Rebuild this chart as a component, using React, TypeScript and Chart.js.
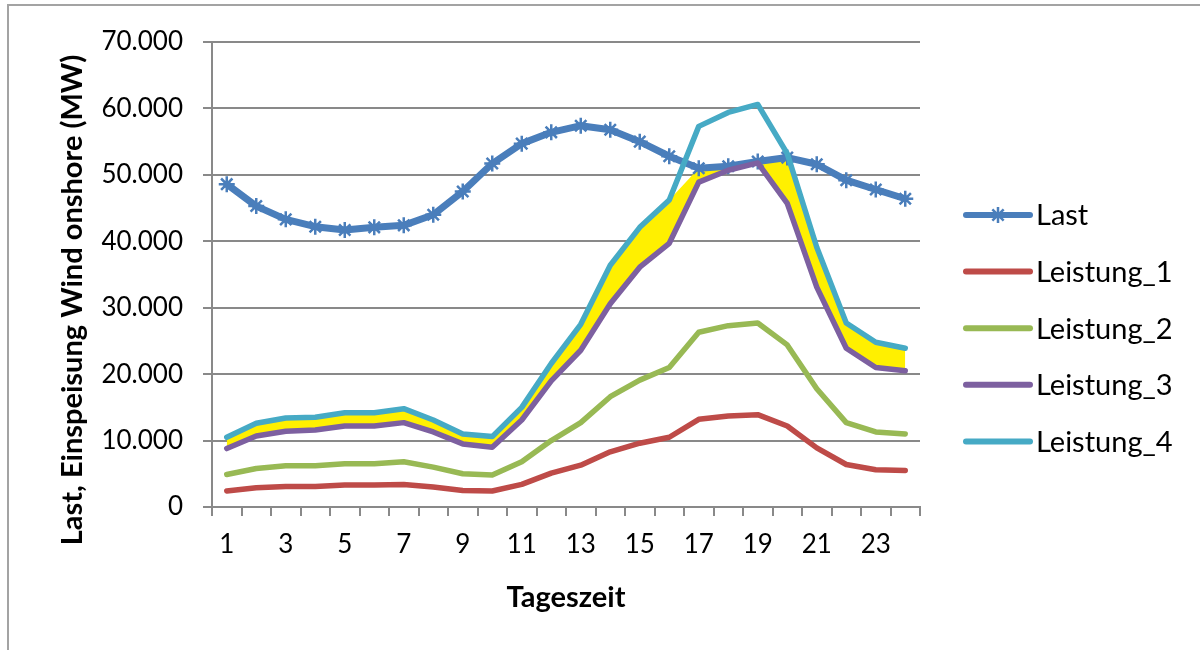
import React, { useEffect, useRef } from "react";
import { Chart, registerables } from "chart.js";

Chart.register(...registerables);

// Stunden des Tages
const hours = ["1", "2", "3", "4", "5", "6", "7", "8", "9", "10", "11", "12", "13", "14", "15", "16", "17", "18", "19", "20", "21", "22", "23", "24"];

// Last und Einspeisung Wind onshore in MW
const last = [48600, 45300, 43300, 42200, 41700, 42100, 42400, 44000, 47500, 51700, 54700, 56400, 57400, 56800, 55000, 52800, 51000, 51300, 52000, 52600, 51600, 49200, 47800, 46400];
const leistung1 = [2400, 2900, 3100, 3100, 3300, 3300, 3400, 3000, 2500, 2400, 3400, 5100, 6300, 8300, 9600, 10500, 13200, 13700, 13900, 12200, 8900, 6400, 5600, 5500];
const leistung2 = [4900, 5800, 6200, 6200, 6500, 6500, 6800, 6000, 5000, 4800, 6800, 10000, 12700, 16600, 19100, 21000, 26300, 27300, 27700, 24400, 17800, 12700, 11300, 11000];
const leistung3 = [8800, 10700, 11400, 11600, 12200, 12200, 12700, 11300, 9500, 9000, 13100, 19000, 23600, 30600, 36100, 39700, 48900, 50700, 51800, 45700, 33100, 23900, 21000, 20500];
const leistung4 = [10500, 12600, 13400, 13500, 14200, 14200, 14800, 13100, 11000, 10600, 15000, 21600, 27500, 36400, 42100, 46200, 57300, 59400, 60600, 53200, 39100, 27700, 24800, 23900];

// Achsenwerte
const yTickValues = [0, 10000, 20000, 30000, 40000, 50000, 60000, 70000];

const yTitle = "Last, Einspeisung Wind onshore (MW)";
const xTitle = "Tageszeit";

const COLORS = {
  last: "#4A7EBB",
  l1: "#BE4B48",
  l2: "#98B954",
  l3: "#7D60A0",
  l4: "#46AAC5",
  band: "#FFF000",
  grid: "#898989",
};

const FONT = "Lato, 'Open Sans', sans-serif";

const formatDe = (v: number) => String(v).replace(/\B(?=(\d{3})+(?!\d))/g, ".");

function drawStar(ctx: CanvasRenderingContext2D, x: number, y: number, r: number) {
  ctx.beginPath();
  ctx.moveTo(x, y - r);
  ctx.lineTo(x, y + r);
  const d = r * Math.SQRT1_2;
  ctx.moveTo(x - d, y - d);
  ctx.lineTo(x + d, y + d);
  ctx.moveTo(x - d, y + d);
  ctx.lineTo(x + d, y - d);
  ctx.stroke();
}

// y-Achsentitel und Legende rechts neben dem Diagramm
const sideDecor = {
  id: "sideDecor",
  afterDraw(chart: any) {
    const { ctx, chartArea } = chart;

    ctx.save();
    ctx.translate(82, 300);
    ctx.rotate(-Math.PI / 2);
    ctx.font = `bold 29px ${FONT}`;
    ctx.fillStyle = "#000";
    ctx.textAlign = "center";
    ctx.textBaseline = "alphabetic";
    ctx.fillText(yTitle, 0, 0);
    ctx.restore();

    const items = chart.data.datasets.filter((d: any) => !d.legendHidden);
    const x0 = chartArea.right + 46;
    const x1 = x0 + 64;
    const yStart = 215;
    const rowGap = 56.6;
    ctx.save();
    items.forEach((d: any, i: number) => {
      const y = yStart + i * rowGap;
      ctx.strokeStyle = d.borderColor;
      ctx.lineWidth = 6;
      ctx.lineCap = "round";
      ctx.beginPath();
      ctx.moveTo(x0, y);
      ctx.lineTo(x1, y);
      ctx.stroke();
      if (d.pointStyle === "star") {
        ctx.lineWidth = 2.5;
        ctx.lineCap = "butt";
        drawStar(ctx, (x0 + x1) / 2, y, 8);
      }
      ctx.fillStyle = "#000";
      ctx.font = `29px ${FONT}`;
      ctx.textAlign = "left";
      ctx.textBaseline = "middle";
      ctx.fillText(d.label, x1 + 6, y + 1);
    });
    ctx.restore();
  },
};

export default function App() {
  const canvasRef = useRef<HTMLCanvasElement | null>(null);

  useEffect(() => {
    const canvas = canvasRef.current;
    if (!canvas) return;

    const band = last.map((v, i) => Math.min(v, leistung4[i]));

    const lineStyle = {
      borderWidth: 5.5,
      pointRadius: 0,
      tension: 0,
      fill: false,
      borderCapStyle: "round" as const,
      borderJoinStyle: "round" as const,
    };

    const chart = new Chart(canvas, {
      type: "line",
      data: {
        labels: hours,
        datasets: [
          {
            ...lineStyle,
            label: "Last",
            data: last,
            borderWidth: 7,
            borderColor: COLORS.last,
            backgroundColor: COLORS.last,
            pointStyle: "star",
            pointRadius: 8,
            pointBorderWidth: 2.5,
            pointBorderColor: COLORS.last,
            order: 5,
          },
          { ...lineStyle, label: "Leistung_1", data: leistung1, borderColor: COLORS.l1, backgroundColor: COLORS.l1, order: 4 },
          { ...lineStyle, label: "Leistung_2", data: leistung2, borderColor: COLORS.l2, backgroundColor: COLORS.l2, order: 3 },
          { ...lineStyle, label: "Leistung_3", data: leistung3, borderColor: COLORS.l3, backgroundColor: COLORS.l3, order: 2 },
          { ...lineStyle, label: "Leistung_4", data: leistung4, borderColor: COLORS.l4, backgroundColor: COLORS.l4, order: 1 },
          {
            label: "Band",
            legendHidden: true,
            data: band,
            borderWidth: 0,
            borderColor: "rgba(0,0,0,0)",
            backgroundColor: COLORS.band,
            pointRadius: 0,
            tension: 0,
            fill: 3,
            order: 10,
          } as any,
        ],
      },
      options: {
        responsive: false,
        animation: false,
        devicePixelRatio: 1,
        layout: { padding: { left: 0, right: 280, top: 42, bottom: 0 } },
        plugins: {
          legend: { display: false },
          tooltip: { enabled: false },
        },
        scales: {
          x: {
            type: "category",
            offset: true,
            grid: {
              offset: true,
              drawOnChartArea: false,
              drawTicks: true,
              tickLength: 9,
              color: COLORS.grid,
              lineWidth: 2,
            },
            border: { display: true, color: COLORS.grid, width: 2 },
            ticks: {
              autoSkip: false,
              maxRotation: 0,
              minRotation: 0,
              padding: 13,
              color: "#000",
              font: { family: FONT, size: 26 },
              callback: (_v: any, i: number) => (i % 2 === 0 ? hours[i] : ""),
            },
            title: {
              display: true,
              text: xTitle,
              color: "#000",
              font: { family: FONT, size: 29, weight: "bold" },
              padding: { top: 0, bottom: 35 },
            },
            afterFit: (scale: any) => {
              scale.height = 143;
            },
          },
          y: {
            min: 0,
            max: 70000,
            afterBuildTicks: (scale: any) => {
              scale.ticks = yTickValues.map((v) => ({ value: v }));
            },
            grid: { color: COLORS.grid, lineWidth: 2, drawTicks: true, tickLength: 9 },
            border: { display: true, color: COLORS.grid, width: 2 },
            ticks: {
              padding: 20,
              color: "#000",
              font: { family: FONT, size: 26 },
              callback: (v: any) => formatDe(Number(v)),
            },
            afterFit: (scale: any) => {
              scale.width = 212;
            },
          },
        },
      },
      plugins: [sideDecor],
    } as any);

    return () => chart.destroy();
  }, []);

  return (
    <div
      style={{
        position: "fixed",
        left: 0,
        top: 0,
        width: 1200,
        height: 650,
        overflow: "hidden",
        background: "#fff",
      }}
    >
      <div
        style={{
          position: "absolute",
          left: 7,
          top: 4,
          width: 1400,
          height: 900,
          border: "2px solid #a3a3a3",
        }}
      />
      <canvas
        ref={canvasRef}
        width={1200}
        height={650}
        style={{ position: "absolute", left: 0, top: 0, width: 1200, height: 650 }}
      />
    </div>
  );
}
